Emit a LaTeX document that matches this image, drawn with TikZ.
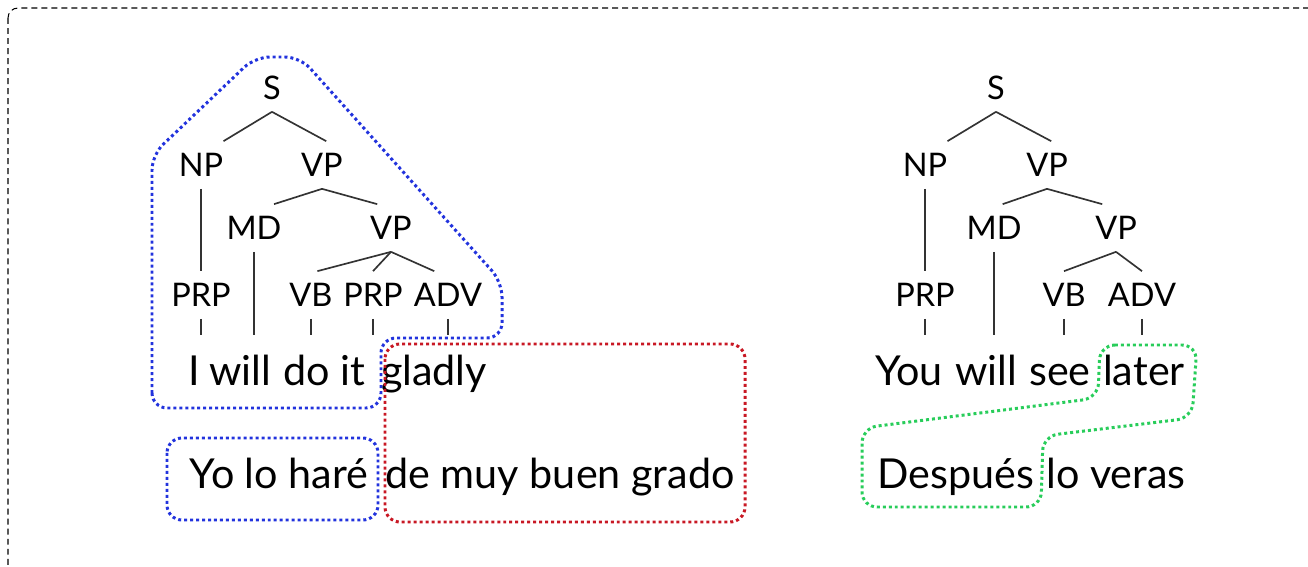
\documentclass[tikz,border=0pt]{standalone}
\usepackage{fontspec}
\setmainfont{Lato}
\definecolor{alignblue}{RGB}{34,51,221}
\definecolor{alignred}{RGB}{200,24,36}
\definecolor{aligngreen}{RGB}{40,205,90}
\begin{document}
\begin{tikzpicture}[x=0.02cm,y=-0.02cm,
		tag/.style={font=\fontsize{18.5}{19}\selectfont,text height=0.46cm,text depth=0pt,inner xsep=0pt,inner ysep=0.24cm},
		word/.style={font=\fontsize{23.5}{24}\selectfont,text height=0.58cm,text depth=0pt,inner xsep=0pt,inner ysep=0.43cm},
		branch/.style={draw=black!80,line width=0.95pt},
		alignbox/.style={line width=1.7pt,dash pattern=on 1.7pt off 1.7pt,rounded corners=0.3cm}]
		\useasboundingbox (0,0) rectangle (1308,567);
		\clip (0,0) rectangle (1308,567);
		\draw[line width=0.6pt,dash pattern=on 3.4pt off 2.3pt,rounded corners=0.2cm] (8,8) rectangle (1340,600);
		\node[tag] (s) at (272,88) {S};
		\node[tag] (np) at (201,165) {NP};
		\node[tag] (vp) at (322,165) {VP};
		\node[tag] (md) at (254,228) {MD};
		\node[tag] (vpb) at (391,228) {VP};
		\node[tag] (prp) at (201,295) {PRP};
		\node[tag] (vb) at (311,295) {VB};
		\node[tag] (prpb) at (373,295) {PRP};
		\node[tag] (adv) at (448,295) {ADV};
		\node[word] (i) at (194,371) {I};
		\node[word] (will) at (240,371) {will};
		\node[word] (do) at (307,371) {do};
		\node[word] (it) at (353,371) {it};
		\node[word] (gladly) at (434,371) {gladly};
		\node[word] (yo) at (279,474) {Yo lo haré};
		\node[word] (demuy) at (560,474) {de muy buen grado};
		\draw[branch] (s.south) -- (np.north east);
		\draw[branch] (s.south) -- (vp.80);
		\draw[branch] (vp.south) -- (md.50);
		\draw[branch] (vp.south) -- (vpb.120);
		\draw[branch] (vpb.south) -- (vb.75);
		\draw[branch] (vpb.south) -- (prpb.north);
		\draw[branch] (vpb.south) -- (adv.120);
		\draw[branch] (np.south) -- (prp.north);
		\draw[branch] (md.south) -- (md.south |- will.north);
		\draw[branch] (prp.south) -- (prp.south |- i.north);
		\draw[branch] (vb.south) -- (vb.south |- do.north);
		\draw[branch] (prpb.south) -- (prpb.south |- it.north);
		\draw[branch] (adv.south) -- (adv.south |- gladly.north);
		\draw[alignbox,draw=alignblue] (152,408) -- (152,155) -- (255,57) -- (300,57) -- (502,282) -- (502,338) -- (381,338) -- (381,408) -- cycle;
		\draw[alignbox,draw=alignblue] (167,438) rectangle (378,520);
		\draw[alignbox,draw=alignred] (385,344) rectangle (745,522);
		\node[tag] (rs) at (996,88) {S};
		\node[tag] (rnp) at (925,165) {NP};
		\node[tag] (rvp) at (1047,165) {VP};
		\node[tag] (rmd) at (994,228) {MD};
		\node[tag] (rvpb) at (1116,228) {VP};
		\node[tag] (rprp) at (925,295) {PRP};
		\node[tag] (rvb) at (1064,295) {VB};
		\node[tag] (radv) at (1142,295) {ADV};
		\node[word] (you) at (909,371) {You};
		\node[word] (rwill) at (986,371) {will};
		\node[word] (see) at (1060,371) {see};
		\node[word] (later) at (1144,371) {later};
		\node[word] (despues) at (956,474) {Después};
		\node[word] (loveras) at (1116,474) {lo veras};
		\draw[branch] (rs.south) -- (rnp.north east);
		\draw[branch] (rs.south) -- (rvp.80);
		\draw[branch] (rvp.south) -- (rmd.70);
		\draw[branch] (rvp.south) -- (rvpb.120);
		\draw[branch] (rvpb.south) -- (rvb.north);
		\draw[branch] (rvpb.south) -- (radv.north);
		\draw[branch] (rnp.south) -- (rprp.north);
		\draw[branch] (rmd.south) -- (rmd.south |- rwill.north);
		\draw[branch] (rprp.south) -- (rprp.south |- you.north);
		\draw[branch] (rvb.south) -- (rvb.south |- see.north);
		\draw[branch] (radv.south) -- (radv.south |- later.north);
		\draw[alignbox,draw=aligngreen] (1100,345) -- (1197,345) -- (1192,418) -- (1043,436) -- (1041,507) -- (862,507) -- (862,428) -- (1098,398) -- cycle;
	\end{tikzpicture}
\end{document}
